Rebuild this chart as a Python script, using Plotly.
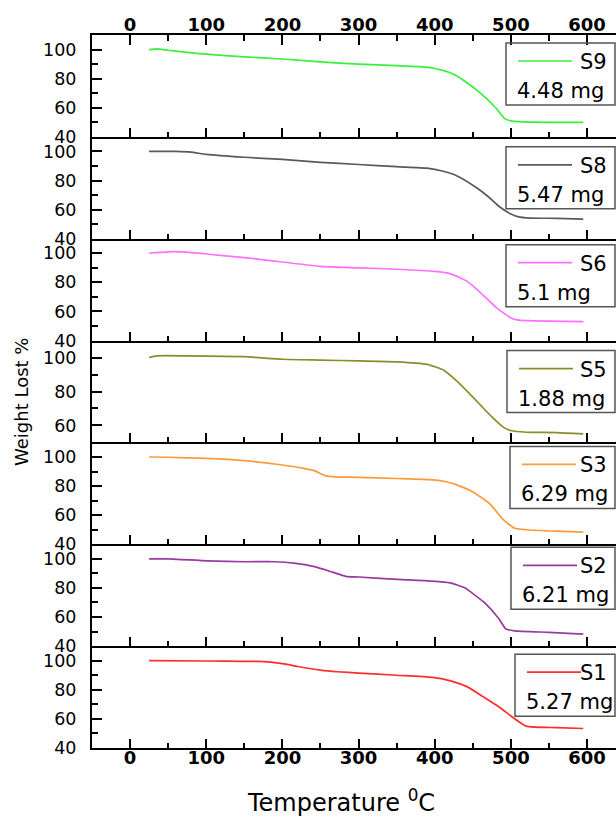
import plotly.graph_objects as go

# ---------------- data ----------------
names = ["S9", "S8", "S6", "S5", "S3", "S2", "S1"]
masses = ["4.48 mg", "5.47 mg", "5.1 mg", "1.88 mg", "6.29 mg", "6.21 mg", "5.27 mg"]
colors = ["#3bef3b", "#5a5a5a", "#ff70ff", "#8c8c2a", "#ff9a3c", "#9b3a9e", "#ff2e2e"]

t_s9 = [25, 35, 50, 75, 100, 150, 200, 250, 300, 350, 380, 400, 412, 425, 440, 460, 480, 492, 500, 510, 550, 595]
w_s9 = [100, 100.5, 99.5, 98, 96.8, 95, 93.5, 91.5, 90, 89, 88.2, 87, 85.5, 83, 78, 70, 60, 52.5, 51, 50.4, 50, 50]

t_s8 = [25, 60, 80, 100, 150, 200, 250, 300, 350, 390, 410, 430, 455, 470, 485, 500, 510, 525, 560, 595]
w_s8 = [100, 100, 99.5, 98, 96, 94.5, 92.5, 91, 89.5, 88.5, 86.5, 83, 75, 69, 62, 57, 55, 54.2, 54, 53.5]

t_s6 = [25, 50, 75, 100, 150, 200, 250, 300, 350, 400, 420, 443, 460, 480, 500, 510, 530, 595]
w_s6 = [100, 101, 100.8, 99.5, 97, 94, 91, 90, 89, 87.5, 86, 80.5, 73, 63, 55.5, 54, 53.5, 53]

t_s5 = [25, 35, 75, 150, 200, 250, 300, 350, 390, 412, 428, 445, 460, 475, 490, 500, 520, 560, 595]
w_s5 = [100, 101, 101, 100.5, 99, 98.5, 98, 97.5, 96, 92.5, 86.5, 79, 72, 65, 59, 57, 56, 55.8, 55]

t_s3 = [25, 50, 100, 150, 200, 230, 242, 257, 270, 300, 350, 397, 415, 428, 450, 472, 490, 505, 520, 560, 595]
w_s3 = [100, 99.8, 99, 97.5, 94.5, 92, 90.6, 87, 86.3, 86, 85.2, 84.3, 83, 81, 76, 68, 57, 51, 50, 49, 48.4]

t_s2 = [25, 50, 102, 150, 190, 215, 242, 265, 283, 300, 345, 397, 420, 440, 448, 465, 484, 493, 505, 550, 595]
w_s2 = [100, 100, 98.6, 98, 98, 97, 94.6, 91, 88, 87.5, 86, 84.7, 83.5, 80, 77, 70, 59, 52, 50.5, 49.5, 48.3]

t_s1 = [25, 100, 149, 170, 200, 220, 250, 272, 300, 350, 397, 422, 443, 464, 485, 500, 520, 560, 595]
w_s1 = [100, 99.8, 99.5, 99.5, 98, 96, 93.5, 92.4, 91.5, 90, 88.5, 86, 82, 75, 68, 62, 55, 54, 53.4]

temps = [t_s9, t_s8, t_s6, t_s5, t_s3, t_s2, t_s1]
weights = [w_s9, w_s8, w_s6, w_s5, w_s3, w_s2, w_s1]

x_ticks = [0, 100, 200, 300, 400, 500, 600]
x_tick_text = ["<b>%d</b>" % v for v in x_ticks]
y_ranges = [[40, 110], [40, 110], [40, 110], [50, 110], [40, 110], [40, 110], [40, 110]]
y_ticks = [[40, 60, 80, 100], [40, 60, 80, 100], [40, 60, 80, 100], [60, 80, 100],
           [40, 60, 80, 100], [40, 60, 80, 100], [40, 60, 80, 100]]

# ---------------- layout geometry ----------------
W, H = 616, 818
ML, MR, MT, MB = 92, 0, 35, 70
PW, PH = W - ML - MR, H - MT - MB
N = len(names)
x_range = [-50, 638]

box_left = [506, 506, 506, 507, 510, 511, 515]
box_top_off = [8, 10, 6, 10, 4, 3, 8]


def px(xp):
    return (xp - ML) / PW


def py(yp):
    return (H - MB - yp) / PH


FONT = "DejaVu Sans, Liberation Sans, Arial, sans-serif"

fig = go.Figure()
layout = dict(
    width=W, height=H,
    margin=dict(l=ML, r=MR, t=MT, b=MB),
    paper_bgcolor="white", plot_bgcolor="white",
    showlegend=False,
    font=dict(family=FONT, color="black"),
)

for i in range(N):
    k = i + 1
    xa = "x" if k == 1 else f"x{k}"
    ya = "y" if k == 1 else f"y{k}"
    fig.add_trace(go.Scatter(
        x=temps[i], y=weights[i], mode="lines", name=names[i],
        line=dict(color=colors[i], width=1.7, shape="spline", smoothing=0.5),
        xaxis=xa, yaxis=ya, hoverinfo="skip",
    ))
    lo = 1 - (i + 1) / N
    hi = 1 - i / N
    layout["xaxis" if k == 1 else f"xaxis{k}"] = dict(
        domain=[0, 1], range=x_range, anchor=ya,
        showline=True, linewidth=2, linecolor="black",
        ticks="inside", ticklen=9, tickwidth=2, tickcolor="black",
        tickvals=x_ticks, ticktext=x_tick_text,
        minor=dict(ticks="inside", ticklen=5, tickwidth=2, tickcolor="black", dtick=50, tick0=0),
        showgrid=False, zeroline=False,
        showticklabels=(k == N),
        tickfont=dict(family=FONT, size=18),
        ticklabelstandoff=-8,
        **({} if k == 1 else {"matches": "x"}),
    )
    layout["yaxis" if k == 1 else f"yaxis{k}"] = dict(
        domain=[lo, hi], range=y_ranges[i], anchor=xa,
        showline=True, linewidth=2, linecolor="black",
        ticks="inside", ticklen=10, tickwidth=2, tickcolor="black",
        tickvals=y_ticks[i],
        minor=dict(ticks="inside", ticklen=6, tickwidth=2, tickcolor="black", dtick=10, tick0=0),
        showgrid=False, zeroline=False,
        tickfont=dict(family=FONT, size=17.5),
        ticklabelstandoff=10,
    )

# top axis (labels on top of the first panel)
layout["xaxis8"] = dict(
    overlaying="x", anchor="y", side="top", range=x_range,
    showline=True, linewidth=2, linecolor="black",
    ticks="inside", ticklen=10, tickwidth=2, tickcolor="black",
    tickvals=x_ticks, ticktext=x_tick_text,
    minor=dict(ticks="inside", ticklen=6, tickwidth=2, tickcolor="black", dtick=50, tick0=0),
    showgrid=False, zeroline=False,
    tickfont=dict(family=FONT, size=18),
    ticklabelstandoff=-5,
)
fig.add_trace(go.Scatter(x=[None], y=[None], xaxis="x8", yaxis="y", showlegend=False, hoverinfo="skip"))

shapes = []
annotations = []
panel_h = PH / N
for i in range(N):
    top_px = MT + i * panel_h + box_top_off[i]
    bot_px = top_px + 62
    left_px = box_left[i]
    shapes.append(dict(type="rect", xref="paper", yref="paper",
                       x0=px(left_px), x1=px(615), y0=py(bot_px), y1=py(top_px),
                       line=dict(color="#555555", width=1.5), fillcolor="rgba(255,255,255,0)"))
    shapes.append(dict(type="line", xref="paper", yref="paper",
                       x0=px(left_px + 12), x1=px(left_px + 66), y0=py(top_px + 18), y1=py(top_px + 18),
                       line=dict(color=colors[i], width=1.7)))
    annotations.append(dict(xref="paper", yref="paper", x=px(609), y=py(top_px + 19),
                            xanchor="right", yanchor="middle", showarrow=False,
                            text=names[i], font=dict(family=FONT, size=21, color="black")))
    annotations.append(dict(xref="paper", yref="paper", x=px(left_px + 9), y=py(top_px + 48),
                            xanchor="left", yanchor="middle", showarrow=False,
                            text=masses[i], font=dict(family=FONT, size=21, color="black")))

annotations.append(dict(xref="paper", yref="paper", x=px(22), y=py(402),
                        xanchor="center", yanchor="middle", showarrow=False, textangle=-90,
                        text="Weight Lost %", font=dict(family=FONT, size=18, color="black")))
annotations.append(dict(xref="paper", yref="paper", x=px(341), y=py(801),
                        xanchor="center", yanchor="middle", showarrow=False,
                        text="Temperature <sup>0</sup>C", font=dict(family=FONT, size=24, color="black")))

layout["shapes"] = shapes
layout["annotations"] = annotations
fig.update_layout(**layout)

fig.write_html("out.html", config={"displayModeBar": False},
               post_script="document.body.style.margin='0';document.body.style.overflow='hidden';")
